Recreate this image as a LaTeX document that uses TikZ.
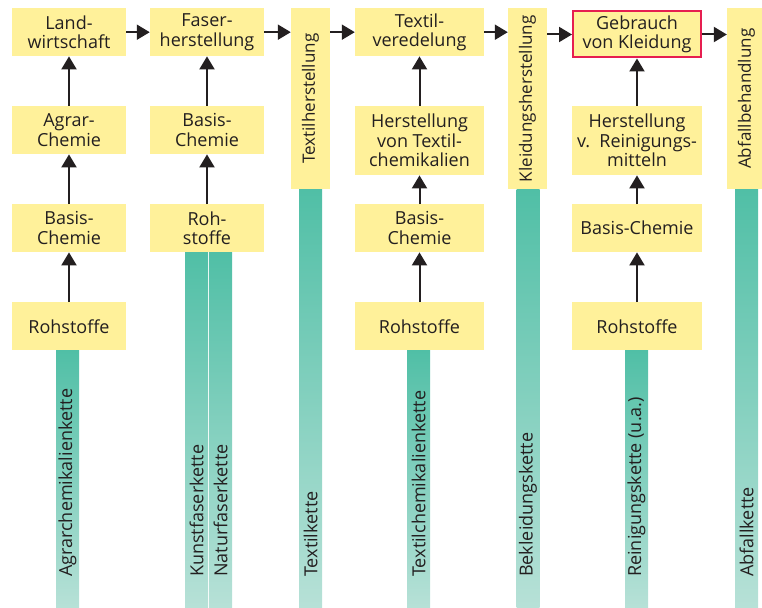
\documentclass[tikz,border=0pt]{standalone}
\usepackage{fontspec}
\setmainfont{Open Sans}
\usetikzlibrary{arrows.meta,positioning}
\definecolor{boxyellow}{RGB}{255,241,154}
\definecolor{chaintop}{RGB}{80,191,166}
\definecolor{chainbot}{RGB}{183,225,215}
\definecolor{ink}{RGB}{35,31,32}
\definecolor{usered}{RGB}{230,30,80}

\begin{document}
\begin{tikzpicture}[
    x=1pt, y=-1pt,
    block/.style={fill=boxyellow, text=ink, align=center, inner sep=0pt, anchor=north,
        font=\fontsize{18}{19.5}\selectfont, minimum height=48pt},
    vblock/.style={fill=boxyellow, text=ink, inner sep=0pt, rotate=90, anchor=east,
        font=\fontsize{17}{19.5}\selectfont, minimum width=181pt, minimum height=39pt},
    chain/.style={top color=chaintop, bottom color=chainbot, draw=none, inner sep=0pt,
        anchor=north, minimum width=23pt},
    chainlabel/.style={text=ink, inner sep=0pt, rotate=90, anchor=west,
        font=\fontsize{18}{19.5}\selectfont},
    arrow/.style={-{Triangle[width=15pt,length=13pt]}, line width=2pt, draw=ink}
]
\clip (0,0) rectangle (762,607);
% chains
\node[chain, minimum height=257pt] (agrbar) at (67.5,350) {};
\node[chain, minimum height=355pt] (kunstbar) at (196.5,252) {};
\node[chain, minimum height=355pt] (naturbar) at (220.5,252) {};
\node[chain, minimum height=418pt] (textbar) at (310.5,189) {};
\node[chain, minimum height=257pt] (tchembar) at (418.5,350) {};
\node[chain, minimum height=418pt] (beklbar) at (528,189) {};
\node[chain, minimum height=257pt] (reinbar) at (636.5,350) {};
\node[chain, minimum height=418pt] (abfbar) at (746.5,189) {};
\node[chainlabel] (agrlab) at (67.5,577) {Agrarchemikalienkette};
\node[chainlabel] (kunstlab) at (196.5,577) {Kunstfaserkette};
\node[chainlabel] (naturlab) at (220.5,577) {Naturfaserkette};
\node[chainlabel] (textlab) at (310.5,577) {Textilkette};
\node[chainlabel] (tchemlab) at (418.5,577) {Textilchemikalienkette};
\node[chainlabel] (bekllab) at (528,577) {Bekleidungskette};
\node[chainlabel] (reinlab) at (636.5,577) {Reinigungskette (u.a.)};
\node[chainlabel] (abflab) at (746.5,577) {Abfallkette};

% column 1
\node[block, minimum width=114pt] (land) at (69,8) {Land-\\wirtschaft};
\node[block, minimum width=114pt] (agrar) at (69,106) {Agrar-\\Chemie};
\node[block, minimum width=114pt] (basis1) at (69,204) {Basis-\\Chemie};
\node[block, minimum width=114pt] (roh1) at (69,302) {Rohstoffe};
% column 2
\node[block, minimum width=114pt] (faser) at (207,8) {Faser-\\herstellung};
\node[block, minimum width=114pt] (basis2) at (207,106) {Basis-\\Chemie};
\node[block, minimum width=114pt] (roh2) at (207,204) {Roh-\\stoffe};
% column 3
\node[vblock] (txh) at (310.5,8) {Textilherstellung};
% column 4
\node[block, minimum width=129pt] (tveg) at (419.5,8) {Textil-\\veredelung};
\node[block, minimum width=129pt, minimum height=69pt] (htc) at (419.5,106) {Herstellung\\von Textil-\\chemikalien};
\node[block, minimum width=129pt] (basis4) at (419.5,204) {Basis-\\Chemie};
\node[block, minimum width=129pt] (roh4) at (419.5,302) {Rohstoffe};
% column 5
\node[vblock] (kh) at (527.5,8) {Kleidungsherstellung};
% column 6
\node[block, minimum width=128pt, minimum height=46pt, draw=usered, line width=2pt] (gebr) at (637,10.5) {Gebrauch\\von Kleidung};
\node[block, minimum width=130pt, minimum height=69pt] (hrm) at (637,106) {Herstellung\\v.~~Reinigungs-\\mitteln};
\node[block, minimum width=130pt] (basis6) at (637,204) {Basis-Chemie};
\node[block, minimum width=130pt] (roh6) at (637,302) {Rohstoffe};
% column 7
\node[vblock] (abf) at (746.5,8) {Abfallbehandlung};

% vertical arrows
\draw[arrow] (agrar.north) -- (land.south);
\draw[arrow] (basis1.north) -- (agrar.south);
\draw[arrow] (roh1.north) -- (basis1.south);
\draw[arrow] (basis2.north) -- (faser.south);
\draw[arrow] (roh2.north) -- (basis2.south);
\draw[arrow] (htc.north) -- (tveg.south);
\draw[arrow] (basis4.north) -- (htc.south);
\draw[arrow] (roh4.north) -- (basis4.south);
\draw[arrow] (hrm.north) -- (gebr.south);
\draw[arrow] (basis6.north) -- (hrm.south);
\draw[arrow] (roh6.north) -- (basis6.south);
% horizontal arrows
\draw[arrow] (land.east) -- (faser.west);
\draw[arrow] (faser.east) -- (faser.east -| txh.north);
\draw[arrow] (txh.south |- tveg.west) -- (tveg.west);
\draw[arrow] (tveg.east) -- (tveg.east -| kh.north);
\draw[arrow] (kh.south |- gebr.west) -- (gebr.west);
\draw[arrow] (gebr.east) -- (gebr.east -| abf.north);
\end{tikzpicture}
\end{document}
